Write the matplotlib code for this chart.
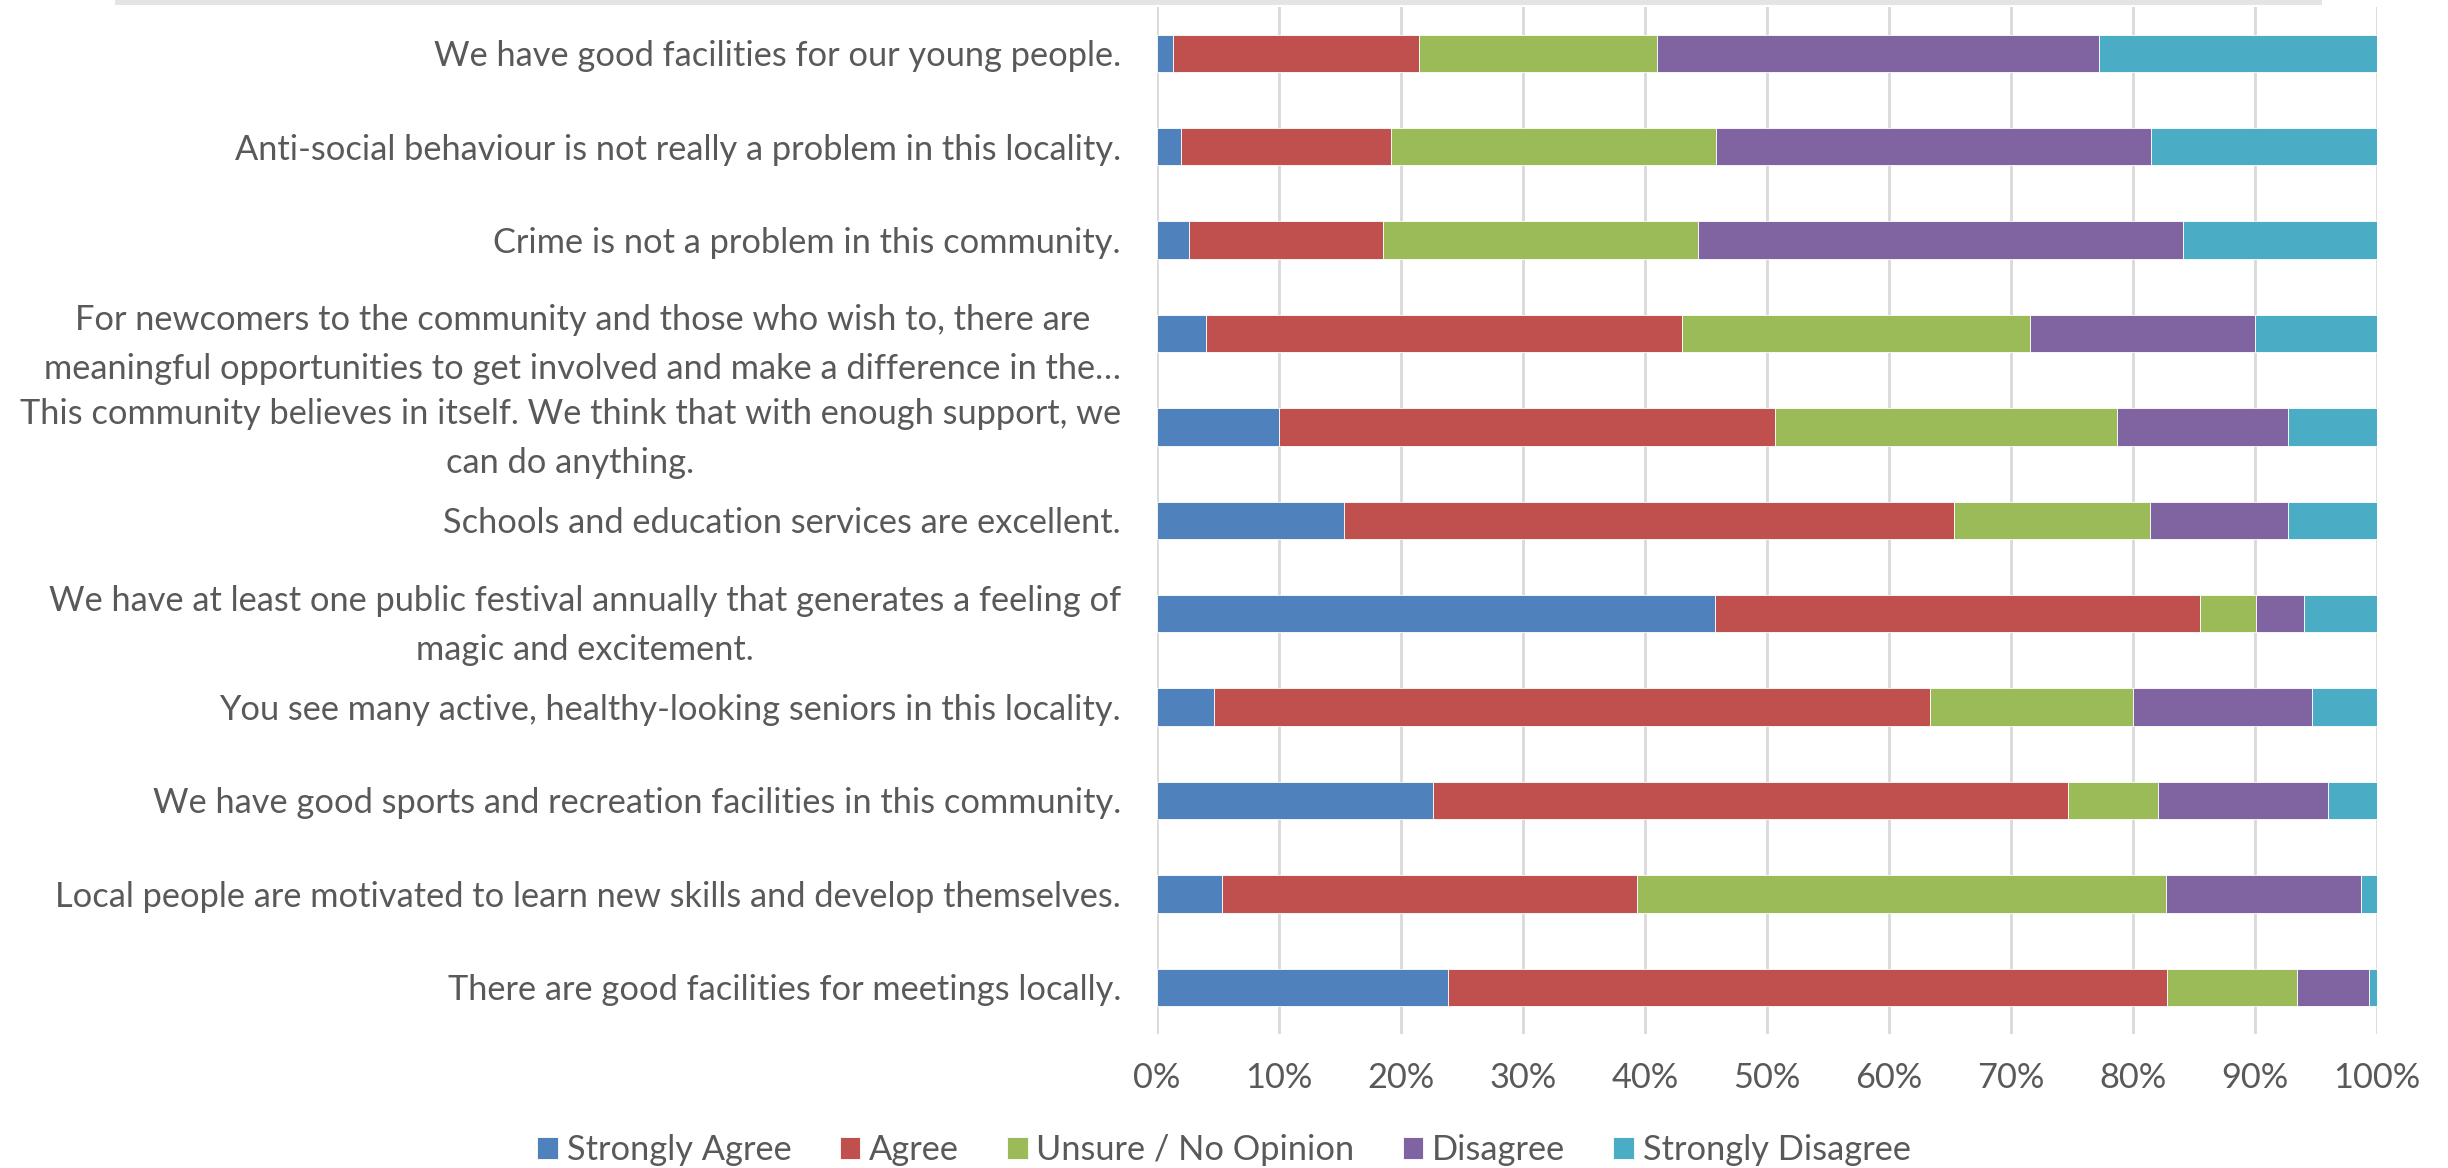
import matplotlib
matplotlib.use("Agg")
import matplotlib.pyplot as plt
from matplotlib.patches import Rectangle
from matplotlib.textpath import TextPath
from matplotlib.font_manager import FontProperties
import numpy as np

categories = [
    "We have good facilities for our young people.",
    "Anti-social behaviour is not really a problem in this locality.",
    "Crime is not a problem in this community.",
    "For newcomers to the community and those who wish to, there are\nmeaningful opportunities to get involved and make a difference in the\u2026",
    "This community believes in itself. We think that with enough support, we\ncan do anything.",
    "Schools and education services are excellent.",
    "We have at least one public festival annually that generates a feeling of\nmagic and excitement.",
    "You see many active, healthy-looking seniors in this locality.",
    "We have good sports and recreation facilities in this community.",
    "Local people are motivated to learn new skills and develop themselves.",
    "There are good facilities for meetings locally.",
]

series_names = ["Strongly Agree", "Agree", "Unsure / No Opinion", "Disagree", "Strongly Disagree"]
strongly_agree = [1.3, 2.0, 2.65, 3.98, 10.0, 15.29, 45.74, 4.69, 22.66, 5.33, 23.85]
agree = [20.2, 17.2, 15.87, 39.04, 40.67, 50.02, 39.72, 58.65, 51.99, 34.02, 58.92]
unsure = [19.5, 26.6, 25.86, 28.51, 28.04, 16.07, 4.65, 16.68, 7.38, 43.32, 10.64]
disagree = [36.2, 35.7, 39.68, 18.51, 13.99, 11.31, 3.91, 14.65, 13.96, 16.0, 5.91]
strongly_disagree = [22.8, 18.55, 15.94, 9.96, 7.31, 7.31, 5.98, 5.33, 4.01, 1.33, 0.68]

xticks = [0, 10, 20, 30, 40, 50, 60, 70, 80, 90, 100]
xtick_labels = ["0%", "10%", "20%", "30%", "40%", "50%", "60%", "70%", "80%", "90%", "100%"]

colors = ["#4F81BD", "#C0504D", "#9BBB59", "#8064A2", "#4BACC6"]
text_color = "#595959"
FONT = ["Lato", "DejaVu Sans"]

plt.rcParams["font.family"] = FONT

# choose a font size so that the first label is ~685 px wide (as in the reference)
fp = FontProperties(family=FONT[0], size=20)
w20 = TextPath((0, 0), categories[0], prop=fp).get_extents().width  # in points at size 20
FS = 20 * (685 * 0.72) / w20
FS = min(FS, 28)

W, H = 2448, 1168
fig = plt.figure(figsize=(W / 100, H / 100), dpi=100)
ax = fig.add_axes([1157 / W, 1 - 1034 / H, (2377 - 1157) / W, (1034 - 6.5) / H])

fig.patches.append(Rectangle((115 / W, 1 - 5 / H), (2322 - 115) / W, 5 / H,
                             transform=fig.transFigure, facecolor="#e4e4e4",
                             edgecolor="none"))

series = [strongly_agree, agree, unsure, disagree, strongly_disagree]
y = np.arange(len(categories))
left = np.zeros(len(categories))
for name, vals, c in zip(series_names, series, colors):
    vals = np.array(vals)
    ax.barh(y, vals, left=left, height=0.4, color=c, label=name,
            edgecolor="white", linewidth=0.6, zorder=3)
    left += vals

ax.set_xlim(0, 100)
ax.set_ylim(len(categories) - 0.5, -0.5)
ax.set_xticks(xticks)
ax.set_xticklabels(xtick_labels)
ax.set_yticks(y)
ax.set_yticklabels(categories)
for t in ax.get_yticklabels():
    t.set_multialignment("center")
    t.set_linespacing(1.65)

ax.tick_params(axis="both", length=0, labelsize=FS, colors=text_color)
ax.tick_params(axis="y", pad=26)
ax.tick_params(axis="x", pad=20)
ax.xaxis.grid(True, color="#d9d9d9", linewidth=2, zorder=0)
ax.set_axisbelow(True)
for s in ax.spines.values():
    s.set_visible(False)

handles, labels = ax.get_legend_handles_labels()
leg = fig.legend(handles, labels, loc="center", bbox_to_anchor=(0.5, 1 - 1150 / H),
                 ncol=5, frameon=False, fontsize=FS, handlelength=0.6,
                 handleheight=0.6, handletextpad=0.25, columnspacing=1.4)
for t in leg.get_texts():
    t.set_color(text_color)

fig.savefig("out.png", dpi=100, facecolor="white")
